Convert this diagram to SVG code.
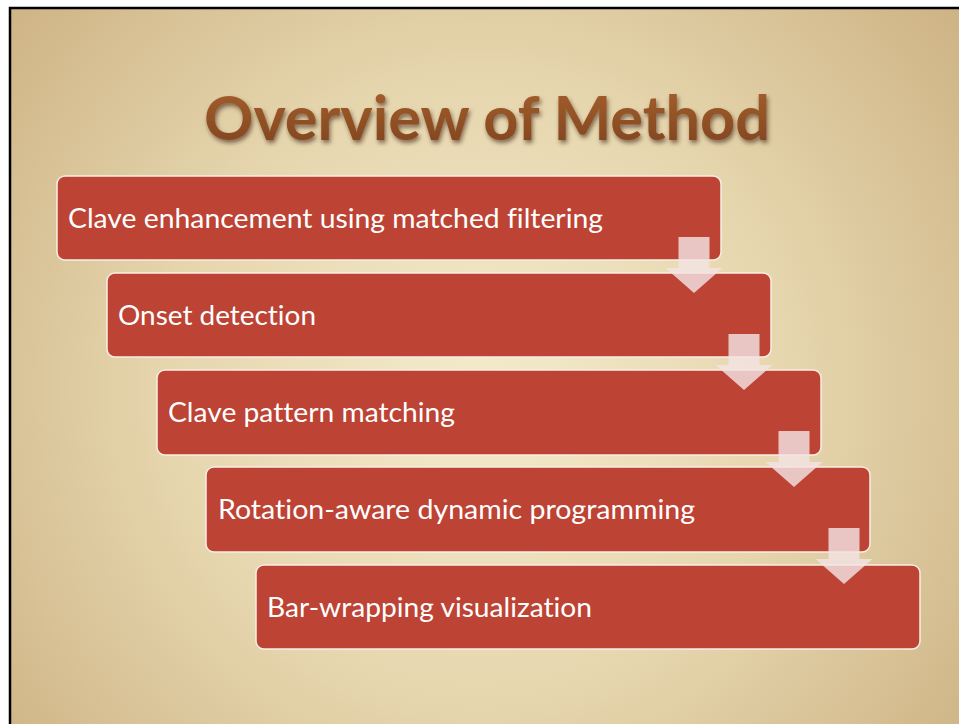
<svg xmlns="http://www.w3.org/2000/svg" width="959" height="724" viewBox="0 0 959 724">
<defs>
<radialGradient id="bg" cx="480" cy="390" r="620" gradientUnits="userSpaceOnUse">
<stop offset="0" stop-color="#f4ebcc"/>
<stop offset="0.5" stop-color="#e6d6ae"/>
<stop offset="1" stop-color="#cdb283"/>
</radialGradient>
<linearGradient id="tg" x1="0" y1="0" x2="0" y2="1">
<stop offset="0" stop-color="#a9622f"/>
<stop offset="1" stop-color="#7e431c"/>
</linearGradient>
<filter id="sh" x="-10%" y="-20%" width="120%" height="150%">
<feDropShadow dx="1.5" dy="3" stdDeviation="2.2" flood-color="#3a2410" flood-opacity="0.6"/>
</filter>
<polygon id="arr" points="-15.5,0 15.5,0 15.5,31 28.5,31 0,56 -28.5,31 -15.5,31"/>
</defs>
<style>
text{font-variant-ligatures:none;font-feature-settings:"liga" 0,"dlig" 0}
.box{fill:#bd4334;stroke:#f7eee6;stroke-width:1.5}
.lbl{font-family:Lato,"Open Sans","Liberation Sans",sans-serif;font-size:27px;fill:#ffffff}
.ar{fill:#f3e3e3;fill-opacity:0.82}
</style>
<rect x="0" y="0" width="959" height="724" fill="#ffffff"/>
<rect x="10" y="8" width="949" height="716" fill="url(#bg)"/>
<path d="M10,724 V8 H959" fill="none" stroke="#000" stroke-width="2.5"/>
<text x="487" y="140" text-anchor="middle" font-family="Lato,'Open Sans','Liberation Sans',sans-serif" font-weight="bold" font-size="62" fill="url(#tg)" filter="url(#sh)" textLength="566" lengthAdjust="spacingAndGlyphs">Overview of Method</text>
<g id="n1"><rect class="box" x="57" y="176" width="664" height="84" rx="8"/><text class="lbl" x="68" y="228" textLength="535" lengthAdjust="spacingAndGlyphs">Clave enhancement using matched filtering</text></g>
<g id="n2"><rect class="box" x="107" y="273" width="664" height="84" rx="8"/><text class="lbl" x="118" y="325" textLength="198" lengthAdjust="spacingAndGlyphs">Onset detection</text></g>
<g id="n3"><rect class="box" x="157" y="370" width="664" height="85" rx="8"/><text class="lbl" x="168" y="422" textLength="287" lengthAdjust="spacingAndGlyphs">Clave pattern matching</text></g>
<g id="n4"><rect class="box" x="206" y="467" width="664" height="85" rx="8"/><text class="lbl" x="218" y="519" textLength="477" lengthAdjust="spacingAndGlyphs">Rotation-aware dynamic programming</text></g>
<g id="n5"><rect class="box" x="256" y="565" width="664" height="84" rx="8"/><text class="lbl" x="267" y="617" textLength="325" lengthAdjust="spacingAndGlyphs">Bar-wrapping visualization</text></g>
<g id="connectors">
<use href="#arr" class="ar" x="694" y="237"/>
<use href="#arr" class="ar" x="744" y="334"/>
<use href="#arr" class="ar" x="794" y="431"/>
<use href="#arr" class="ar" x="844" y="528"/>
</g>
</svg>
